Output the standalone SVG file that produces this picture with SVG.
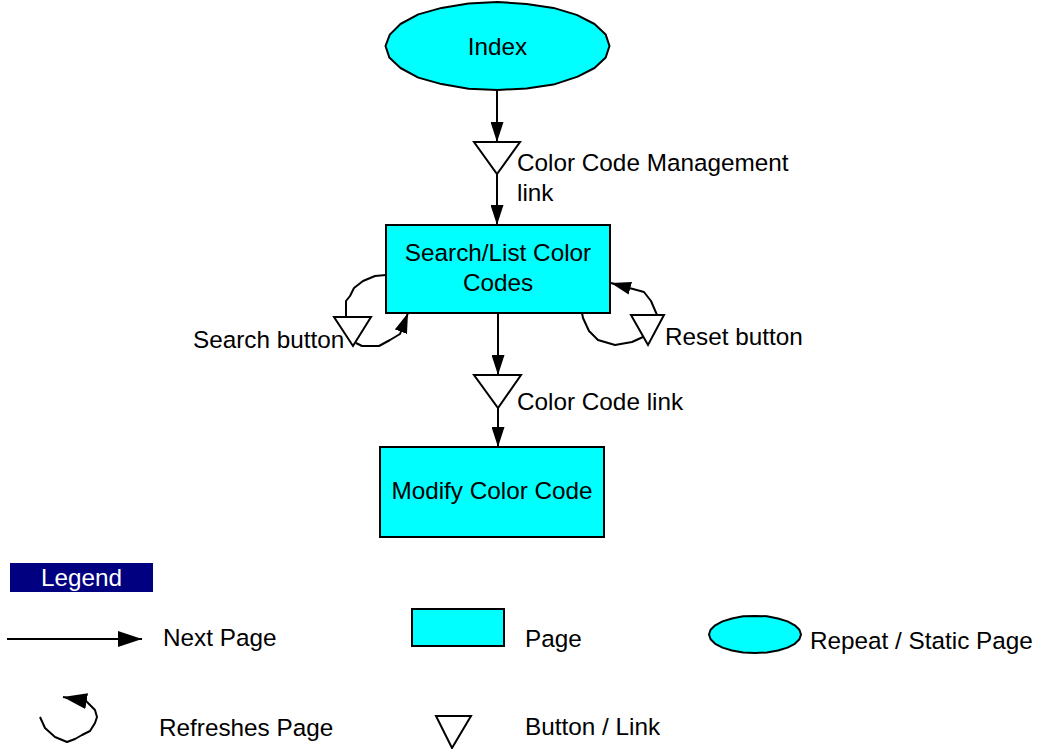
<svg xmlns="http://www.w3.org/2000/svg" width="1041" height="749" viewBox="0 0 1041 749">
<defs>
<style>
.page{fill:#00FFFF;stroke:#000;stroke-width:2}
.btn{fill:#fff;stroke:#000;stroke-width:2;stroke-linejoin:miter}
.edge{fill:none;stroke:#000;stroke-width:2;stroke-linejoin:round}
.t{font-family:"Liberation Sans",Arial,sans-serif;font-size:24.3px;fill:#000}
.c{text-anchor:middle}
</style>
<marker id="ah" markerUnits="userSpaceOnUse" markerWidth="20" markerHeight="13" refX="20" refY="6.5" orient="auto" viewBox="0 0 20 13">
<path d="M0,0 L20,6.5 L0,13 z" fill="#000"/>
</marker>
<marker id="ahL" markerUnits="userSpaceOnUse" markerWidth="24" markerHeight="16" refX="24" refY="8" orient="auto" viewBox="0 0 24 16">
<path d="M0,0 L24,8 L0,16 z" fill="#000"/>
</marker>
</defs>
<rect width="1041" height="749" fill="#fff"/>

<g id="index">
<polygon class="page" stroke-linejoin="round" points="609.5,46 605.7,57.4 594.5,68 577.7,76.6 553.5,84.6 526.5,88.5 497.5,90 468.5,88.8 441.5,84.1 418.3,77.6 400.5,68 389.3,57.4 385.5,46 389.8,34.6 400.5,24 418.3,14.4 441.5,7.9 468.5,3.5 497.5,2 526.5,3.9 553.5,7.9 576.7,14.9 594.5,24 605.7,34.6"/>
<text class="t c" x="497.5" y="55">Index</text>
</g>

<g id="btn-ccm">
<polygon class="btn" points="474,142 520,142 497,174"/>
<text class="t" x="517" y="171">Color Code Management</text>
<text class="t" x="517" y="201">link</text>
</g>

<g id="search-list">
<rect class="page" x="386" y="225" width="224" height="88"/>
<text class="t c" x="498" y="261">Search/List Color</text>
<text class="t c" x="498" y="291">Codes</text>
</g>

<g id="btn-search">
<polygon class="btn" points="334,317 371,317 353,346"/>
<text class="t" x="193" y="348">Search button</text>
</g>

<g id="btn-reset">
<polygon class="btn" points="631,315 664,315 648,345"/>
<text class="t" x="665" y="345">Reset button</text>
</g>

<g id="btn-cc">
<polygon class="btn" points="474,375 521,375 498,408"/>
<text class="t" x="517" y="410">Color Code link</text>
</g>

<g id="modify">
<rect class="page" x="380" y="447" width="224" height="90"/>
<text class="t c" x="492" y="499">Modify Color Code</text>
</g>

<g id="connectors">
<path class="edge" d="M497,90 L497,142" marker-end="url(#ah)"/>
<path class="edge" d="M497,174 L497,225" marker-end="url(#ah)"/>
<path class="edge" d="M498,313 L498,375" marker-end="url(#ah)"/>
<path class="edge" d="M498,408 L498,447" marker-end="url(#ah)"/>
<path class="edge" d="M386,275 L375,276 L363,281 L354,288 L350,296 L346,301 L346,317"/>
<path class="edge" d="M356,343 L362,346 L379,346 L390,340 L400,334 L408,313" marker-end="url(#ah)"/>
<path class="edge" d="M657,315 L651,301 L644,292 L611,283" marker-end="url(#ah)"/>
<path class="edge" d="M643,337 L632,342 L615,345 L598,340 L589,331 L583,318 L582,313"/>
</g>

<g id="legend">
<rect x="10" y="563" width="143" height="29" fill="#000080"/>
<text class="t c" x="81.5" y="586" style="fill:#fff">Legend</text>
<path class="edge" d="M7,639 L142,639" marker-end="url(#ahL)"/>
<text class="t" x="163" y="646">Next Page</text>
<rect class="page" x="412" y="609" width="92" height="37"/>
<text class="t" x="525" y="647">Page</text>
<polygon class="page" stroke-linejoin="round" points="801,634.5 799.4,639.3 794.8,643.8 787.5,647.6 778,650.5 766.9,652.4 755,653 743.1,652.4 732,650.5 722.5,647.6 715.2,643.8 710.6,639.3 709,634.5 710.6,629.7 715.2,625.3 722.5,621.4 732,618.5 743.1,616.2 755,616 766.9,616.2 778,618.5 787.5,621.4 794.8,625.3 799.4,629.7"/>
<text class="t" x="810" y="649">Repeat / Static Page</text>
<path class="edge" d="M40,717 L45,728 L55,737 L67,742 L75,739 L82,735 L90,731 L95,723 L97,717 L95,710 L90,705 L86,701 L63,697" marker-end="url(#ahL)"/>
<text class="t" x="159" y="736">Refreshes Page</text>
<polygon class="btn" points="436,716 471,716 452,748"/>
<text class="t" x="525" y="735">Button / Link</text>
</g>
</svg>
